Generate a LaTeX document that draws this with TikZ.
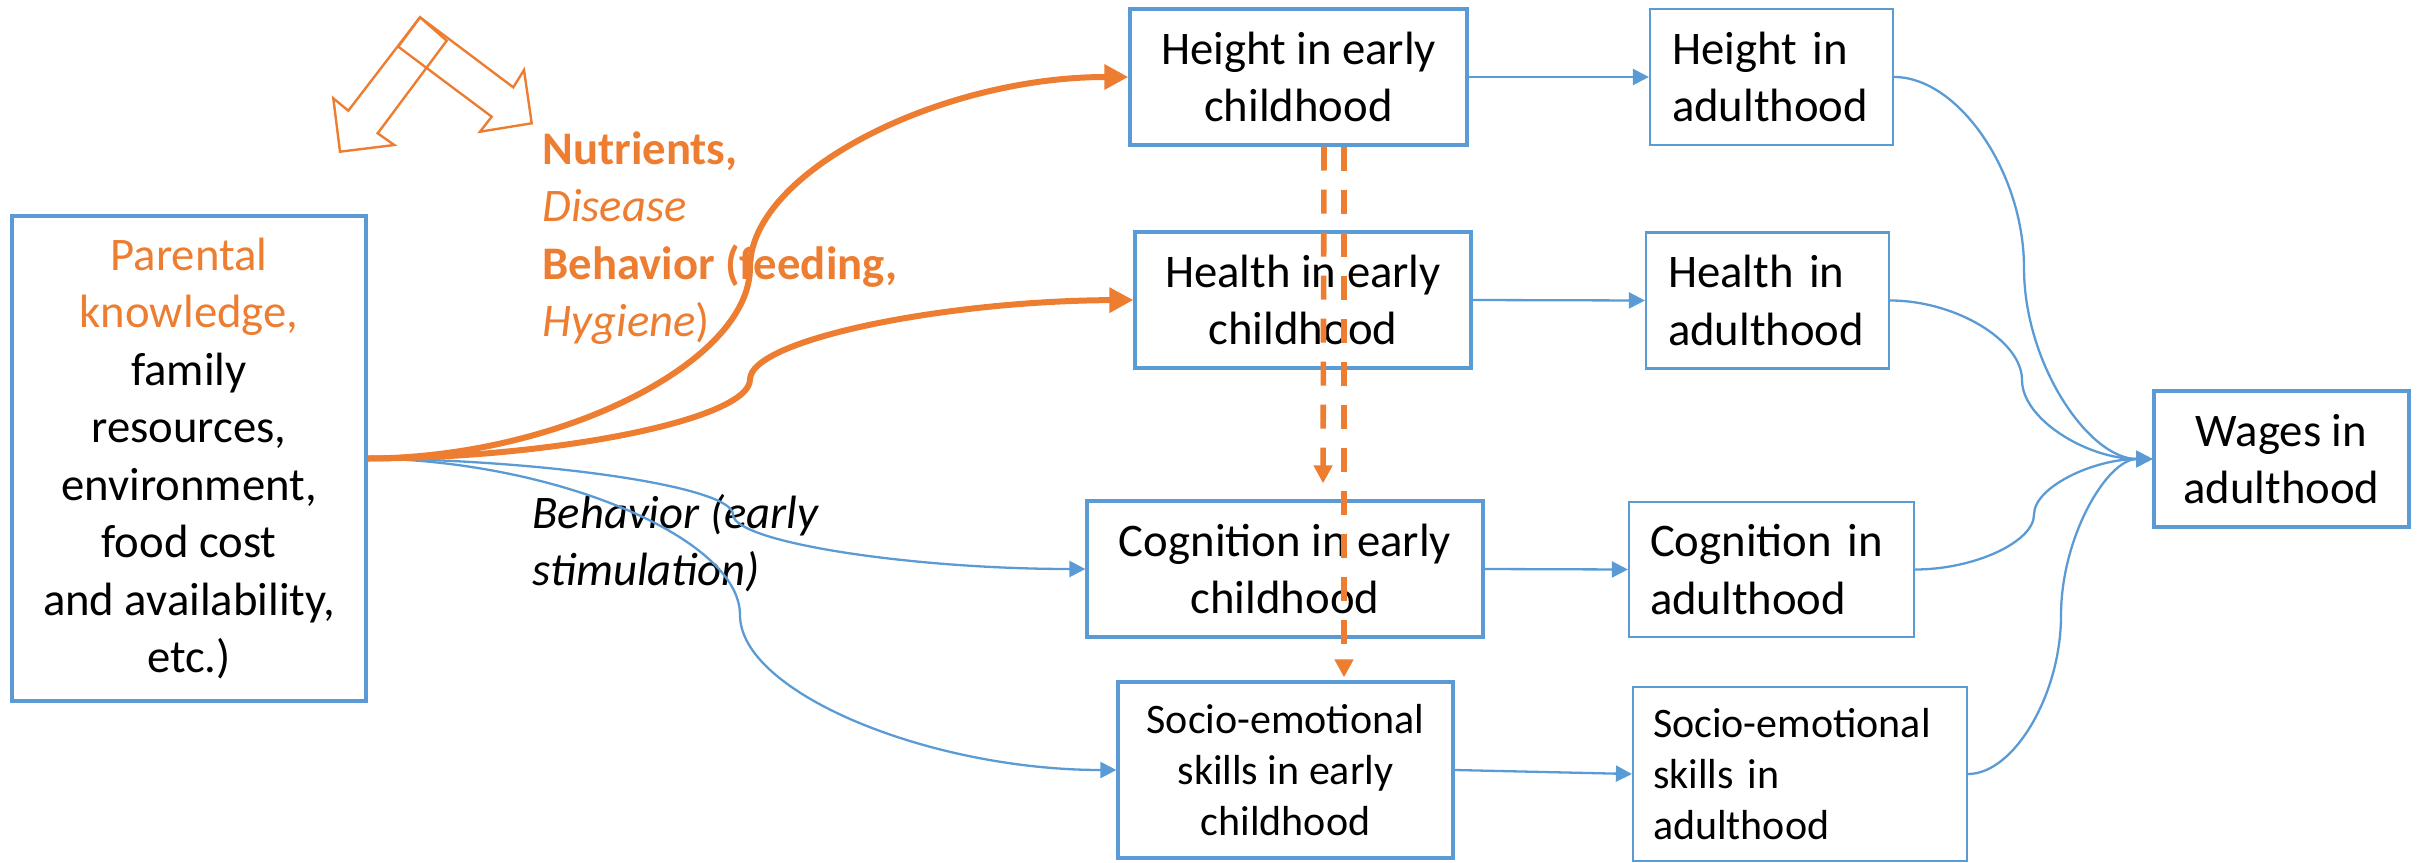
\documentclass[tikz,border=0pt]{standalone}
\usepackage{fontspec}
\setmainfont{Carlito}
\usetikzlibrary{arrows.meta,calc}
\definecolor{myblue}{HTML}{5B9BD5}
\definecolor{myorange}{HTML}{ED7D31}
\begin{document}
\begin{tikzpicture}[x=0.5pt,y=-0.5pt,
  every node/.style={font=\fontsize{23.35pt}{28.75pt}\selectfont},
  smallfont/.style={font=\fontsize{21pt}{25.7pt}\selectfont},
  ebox/.style={draw=myblue, line width=1.6pt, inner sep=0pt, align=center},
  abox/.style={draw=myblue, line width=1.1pt, inner ysep=0pt, align=left},
  oarr/.style={draw=myorange, line width=3pt, -{Triangle[length=12pt,width=12pt]}},
  barr/.style={draw=myblue, line width=1.15pt, -{Triangle[length=8pt,width=8pt]}},
  dsh/.style={draw=myorange, line width=2.8pt, dash pattern=on 12pt off 9.5pt, -{Triangle[length=9pt,width=9pt]}},
  sym/.style={draw=myorange, line width=1.2pt, line join=miter}
]
\useasboundingbox (0,0) rectangle (2425,862);

% boxes
\node[ebox, minimum width=177pt, minimum height=242.5pt] (lbox) at (189,458.5)
  {\textcolor{myorange}{Parental}\\\textcolor{myorange}{knowledge,}\\family\\resources,\\environment,\\food cost\\and availability,\\etc.)};
\node[ebox, minimum width=168.5pt, minimum height=68pt] (hce) at (1298.5,77) {Height in early\\childhood};
\node[ebox, minimum width=168pt, minimum height=68pt] (hle) at (1303,300) {Health in early\\childhood};
\node[ebox, minimum width=198pt, minimum height=68pt] (cce) at (1285,569) {Cognition in early\\childhood};
\node[ebox, smallfont, minimum width=167.5pt, minimum height=88pt] (sce) at (1285.5,770) {Socio-emotional\\skills in early\\childhood};

\node[abox, inner xsep=11pt, text width=99.5pt, minimum height=68pt] (hca) at (1771.5,77) {Height in\\adulthood};
\node[abox, inner xsep=11pt, text width=99.5pt, minimum height=68pt] (hla) at (1767.5,300.5) {Health in\\adulthood};
\node[abox, inner xsep=10.5pt, text width=121.5pt, minimum height=67.5pt] (cca) at (1771.5,569.5) {Cognition in\\adulthood};
\node[abox, smallfont, inner xsep=10pt, text width=147pt, minimum height=87pt] (sca) at (1800,774) {Socio-emotional\\skills in\\adulthood};
\node[ebox, minimum width=127.5pt, minimum height=68pt] (wa) at (2281.5,459) {Wages in\\adulthood};

% labels
\node[anchor=north west, align=left, text=myorange, inner sep=0pt] (lab1) at (542,131)
  {\textbf{Nutrients,}\\\textit{Disease}\\\textbf{Behavior (feeding,}\\\textit{Hygiene})};
\node[anchor=north west, align=left, inner sep=0pt, font=\fontsize{23.35pt}{28.75pt}\selectfont\itshape] (lab2) at (532,494)
  {Behavior (early\\stimulation)};

% symbol (two hollow block arrows)
\draw[sym] (420,17.3) -- (446.7,40.7) -- (377.7,133.3) -- (394.3,145) -- (340,151.7) -- (333.3,98.3) -- (348.3,110.7) -- cycle;
\draw[sym] (420,17.3) -- (513.3,87.3) -- (524,70) -- (531.7,123.3) -- (480,131.7) -- (491.7,116.7) -- (398.3,46.7) -- cycle;

% left connectors
\draw[barr] (lbox.east) .. controls (549,460) and (733,487) .. (733,514.5) .. controls (733,542) and (910,569) .. (cce.west);
\draw[barr] (lbox.east) .. controls (552.5,460) and (740,537.5) .. (740,615) .. controls (740,692.5) and (929,770) .. (sce.west);
\draw[oarr] (lbox.east) .. controls (557.5,458) and (750,363) .. (750,267.5) .. controls (750,172) and (940,77) .. (hce.west);
\draw[oarr] (lbox.east) .. controls (557.5,458) and (750,419) .. (750,379.5) .. controls (750,340) and (942.5,301) .. (hle.west);

% straight connectors
\draw[barr] (hce.east) -- (hca.west);
\draw[barr] (hle.east) -- (hla.west);
\draw[barr] (cce.east) -- (cca.west);
\draw[barr] (sce.east) -- (sca.west);

% to wages
\draw[barr] (hca.east) .. controls (1958.5,77) and (2024,172.5) .. (2024,268) .. controls (2024,363.5) and (2088.5,459) .. (wa.west);
\draw[barr] (hla.east) .. controls (1955.5,300.5) and (2022,340.5) .. (2022,380) .. controls (2022,419.5) and (2087.5,459) .. (wa.west);
\draw[barr] (cca.east) .. controls (1974,569.5) and (2034,542) .. (2034,514.5) .. controls (2034,487) and (2093.5,459) .. (wa.west);
\draw[barr] (sca.east) .. controls (2014,774) and (2061,694) .. (2061,615.5) .. controls (2061,537) and (2107,459) .. (wa.west);

% dashed
\draw[dsh] ($(hce.south)+(25.5,0)$) -- ($(cce.north)+(38,-16)$);
\draw[dsh] ($(hce.south)+(45.5,0)$) -- ($(sce.north)+(58.5,-3)$);
\end{tikzpicture}
\end{document}
